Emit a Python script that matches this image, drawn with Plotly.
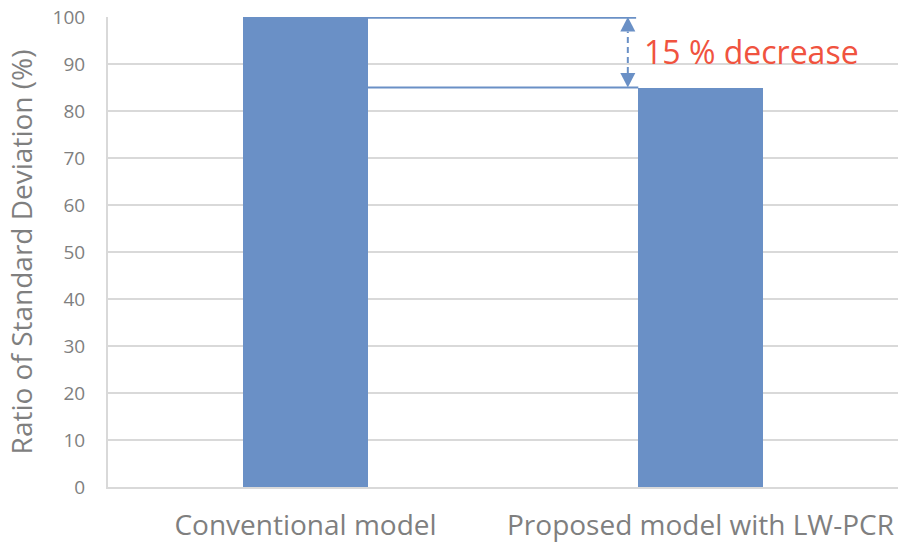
import plotly.graph_objects as go

categories = ["Conventional model", "Proposed model with LW-PCR"]
ratios = [100, 85]
y_ticks = [0, 10, 20, 30, 40, 50, 60, 70, 80, 90, 100]
note_text = "15 % decrease"

BAR = "#6A90C6"
GRID = "#D9D9D9"
TXT = "#7F7F7F"
FONT = "Open Sans"
bar_w = 0.315

fig = go.Figure()
fig.add_trace(go.Bar(x=categories, y=ratios, width=bar_w, marker=dict(color=BAR, line=dict(width=0)),
                     showlegend=False, hoverinfo="skip"))

x_right0 = 0 + bar_w / 2
x_left1 = 1 - bar_w / 2
arrow_x = 0.816
tw = 0.019  # half triangle width in category units
th = 3.1    # triangle height in y units

shapes = [
    dict(type="line", xref="x", yref="y", x0=x_right0, x1=0.837, y0=ratios[0] - 0.15, y1=ratios[0] - 0.15,
         line=dict(color=BAR, width=2)),
    dict(type="line", xref="x", yref="y", x0=x_right0, x1=x_left1, y0=ratios[1], y1=ratios[1],
         line=dict(color=BAR, width=2)),
    dict(type="line", xref="x", yref="y", x0=arrow_x, x1=arrow_x, y0=ratios[1] + th, y1=ratios[0] - th,
         line=dict(color=BAR, width=2, dash="6px,4px")),
    dict(type="path", xref="x", yref="y",
         path=f"M {arrow_x-tw},{ratios[0]-th} L {arrow_x+tw},{ratios[0]-th} L {arrow_x},{ratios[0]} Z",
         fillcolor=BAR, line=dict(width=0)),
    dict(type="path", xref="x", yref="y",
         path=f"M {arrow_x-tw},{ratios[1]+th} L {arrow_x+tw},{ratios[1]+th} L {arrow_x},{ratios[1]} Z",
         fillcolor=BAR, line=dict(width=0)),
]

fig.update_layout(
    width=898, height=545,
    margin=dict(l=108, r=0, t=17, b=58),
    paper_bgcolor="white", plot_bgcolor="white",
    font=dict(family=FONT, color=TXT),
    shapes=shapes,
    annotations=[dict(x=arrow_x + 0.035, y=(ratios[0] + ratios[1]) / 2 + 0.2, xref="x", yref="y",
                      text=note_text, showarrow=False, xanchor="left", yanchor="middle",
                      font=dict(family=FONT, size=32, color="#F0533F"))],
    bargap=0,
)
fig.update_xaxes(range=[-0.5, 1.5], showgrid=False, showline=True, linecolor=GRID, linewidth=2,
                 ticks="outside", ticklen=12, tickcolor="rgba(0,0,0,0)",
                 tickfont=dict(size=28, color=TXT), fixedrange=True)
fig.update_yaxes(range=[0, 100], tickvals=y_ticks, showgrid=True, gridcolor=GRID, gridwidth=2,
                 showline=True, linecolor=GRID, linewidth=2, zeroline=False,
                 ticks="outside", ticklen=17, tickcolor="rgba(0,0,0,0)",
                 tickfont=dict(size=19, color=TXT),
                 title=dict(text="Ratio of Standard Deviation (%)", font=dict(size=28, color=TXT), standoff=12))

fig.write_html("out.html")
